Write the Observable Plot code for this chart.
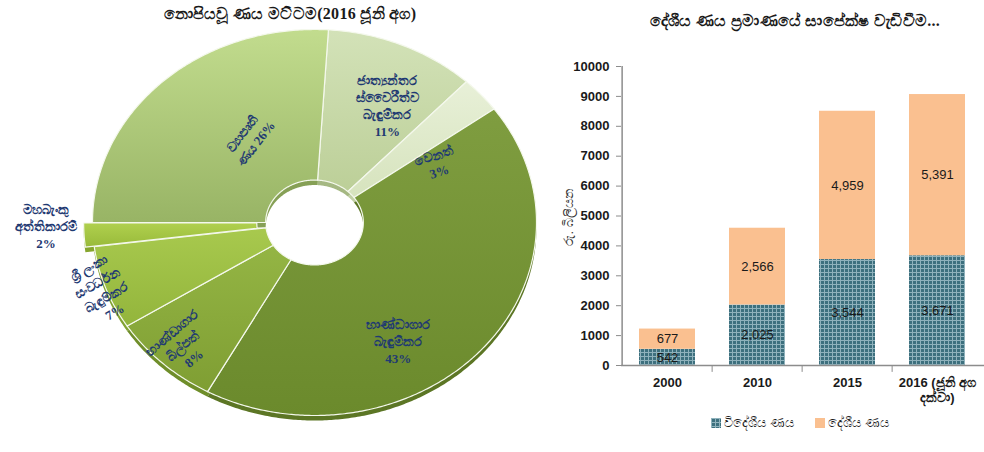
<!DOCTYPE html>
<html>
<head>
<meta charset="utf-8">
<script src="https://cdn.jsdelivr.net/npm/d3@7"></script>
<script src="https://cdn.jsdelivr.net/npm/@observablehq/plot@0.6"></script>
<style>
  html, body { margin: 0; padding: 0; background: #fff; }
  #wrap { position: relative; width: 984px; height: 452px; overflow: hidden; }
  .title { position: absolute; font-family: "Liberation Serif", serif; font-weight: bold; font-size: 16px; letter-spacing: 0.3px; color: #1a1a1a; white-space: nowrap; transform: translateX(-50%); }
  #pie { position: absolute; left: 0; top: 0; }
  #bars { position: absolute; left: 560px; top: 0; }
  .ylab { position: absolute; left: 569px; top: 217px; transform: translate(-50%, -50%) rotate(-90deg); font-family: "Liberation Sans", sans-serif; font-size: 13px; color: #333; white-space: nowrap; }
  .leg { position: absolute; top: 415px; font-family: "Liberation Sans", sans-serif; font-size: 13px; color: #1a1a1a; display: flex; align-items: center; white-space: nowrap; }
  .leg svg { margin-right: 3px; }
</style>
</head>
<body>
<svg width="0" height="0" style="position:absolute">
  <defs>
    <pattern id="tealGrid" width="4" height="4" patternUnits="userSpaceOnUse">
      <rect width="4" height="4" fill="#3d707e"/>
      <path d="M0 0.5H4M0.5 0V4" stroke="#8fb2bc" stroke-width="1"/>
    </pattern>
    <linearGradient id="g0" x1="0" y1="0" x2="0" y2="1"><stop offset="0" stop-color="#d3e2b8"/><stop offset="1" stop-color="#bccf98"/></linearGradient>
    <linearGradient id="g1" x1="0" y1="0" x2="0" y2="1"><stop offset="0" stop-color="#e8f0d8"/><stop offset="1" stop-color="#d6e3bd"/></linearGradient>
    <linearGradient id="g2" x1="0" y1="0" x2="0" y2="1"><stop offset="0" stop-color="#7f9d40"/><stop offset="1" stop-color="#6b8a2c"/></linearGradient>
    <linearGradient id="g3" x1="0" y1="0" x2="0" y2="1"><stop offset="0" stop-color="#94b544"/><stop offset="1" stop-color="#7f9e33"/></linearGradient>
    <linearGradient id="g4" x1="0" y1="0" x2="0" y2="1"><stop offset="0" stop-color="#a8c94e"/><stop offset="1" stop-color="#93b53c"/></linearGradient>
    <linearGradient id="g5" x1="0" y1="0" x2="0" y2="1"><stop offset="0" stop-color="#b0d04e"/><stop offset="1" stop-color="#98ba3a"/></linearGradient>
    <linearGradient id="g6" x1="0" y1="0" x2="0" y2="1"><stop offset="0" stop-color="#c2dc8e"/><stop offset="1" stop-color="#98b465"/></linearGradient>
  </defs>
</svg>
<div id="wrap">
  <div class="title" style="left:290px; top:5px;">නොපියවූ ණය මට්ටම(2016 ජූනි අග)</div>
  <div class="title" style="left:795px; top:12px;">දේශීය ණය ප්&zwj;රමාණයේ සාපේක්ෂ වැඩිවීම...</div>
  <div id="pie"></div>
  <div id="bars"></div>
  <div class="ylab" id="ylab"></div>
</div>
<script>
// ---------- DATA ----------
const debtCategories = [
  "ජාත්\u200Dයන්තර\nස්වෛරීත්ව\nබැඳුම්කර",
  "වෙනත්",
  "භාණ්ඩාගාර\nබැඳුම්කර",
  "භාණ්ඩාගාර\nබිල්පත්",
  "ශ්\u200Dරී ලංකා\nසංවර්ධන\nබැඳුම්කර",
  "මහබැංකු\nඅත්තිකාරම්",
  "ව්\u200Dයාපෘති\nණය"
];
const debtShares = [11, 3, 43, 8, 7, 2, 26];

const years = ["2000", "2010", "2015", "2016 (ජූනි අග\nදක්වා)"];
const seriesNames = ["විදේශීය ණය", "දේශීය ණය"];
const foreignDebt = [542, 2025, 3544, 3671];
const domesticDebt = [677, 2566, 4959, 5391];
const yTicks = [0, 1000, 2000, 3000, 4000, 5000, 6000, 7000, 8000, 9000, 10000];
const yAxisLabel = "රු. බිලියන";

// ---------- STYLE ----------
const sliceFills = ["url(#g0)", "url(#g1)", "url(#g2)", "url(#g3)", "url(#g4)", "url(#g5)", "url(#g6)"];
const sliceRims = ["#a5b883", "#c0cfa4", "#5c7625", "#6f8e2a", "#82a332", "#86a62e", "#86a056"];
const sliceExplode = [0, 0, 0, 0, 0, 0.04, 0];
// label placement: radius (fraction), angle nudge (deg), rotation (deg), join between name & pct
const labelStyle = [
  {r: 0.69, da: 5, rot: 0, join: "\n"},
  {r: 0.63, da: 12, rot: -18, join: "\n"},
  {r: 0.72, da: 17, rot: 0, join: "\n"},
  {r: 0.87, da: 0, rot: -40, join: "\n"},
  {r: 1.02, da: 0, rot: -30, join: "\n"},
  {r: 1.17, da: 3, rot: 0, join: "\n"},
  {r: 0.53, da: 9, rot: -52, join: " "}
];
const startDeg = 3.6, innerR = 0.22;
const cx = 314, cy = 222, rx = 222, ry = 193;

// ---------- PIE ----------
const rad = Math.PI / 180;
const arcs = d3.pie().sort(null).startAngle(startDeg * rad).endAngle(startDeg * rad + 2 * Math.PI)(debtShares);
const slicePts = [];
const labelData = [];
arcs.forEach((a, i) => {
  const mid = (a.startAngle + a.endAngle) / 2;
  const ox = Math.sin(mid) * sliceExplode[i], oy = Math.cos(mid) * sliceExplode[i];
  const n = Math.max(8, Math.ceil((a.endAngle - a.startAngle) / 0.01));
  const pts = [];
  for (let k = 0; k <= n; k++) { const t = a.startAngle + (a.endAngle - a.startAngle) * k / n; pts.push([Math.sin(t), Math.cos(t)]); }
  for (let k = n; k >= 0; k--) { const t = a.startAngle + (a.endAngle - a.startAngle) * k / n; pts.push([innerR * Math.sin(t), innerR * Math.cos(t)]); }
  pts.push(pts[0]);
  pts.forEach(([x, y]) => slicePts.push({slice: i, x: x + ox, y: y + oy, fill: sliceFills[i], rim: sliceRims[i]}));
  const s = labelStyle[i];
  const m = mid + s.da * rad;
  labelData.push({
    x: s.r * Math.sin(m) + ox,
    y: s.r * Math.cos(m) + oy,
    rot: s.rot,
    text: debtCategories[i] + s.join + debtShares[i] + "%"
  });
});

const piePlot = Plot.plot({
  width: 560, height: 452, margin: 0,
  x: {domain: [-1, 1], range: [cx - rx, cx + rx], axis: null},
  y: {domain: [-1, 1], range: [cy + ry, cy - ry], axis: null},
  color: {type: "identity"},
  marks: [
    Plot.line(slicePts, {x: "x", y: "y", z: "slice", fill: "rim", stroke: "none", dy: 5}),
    Plot.line(slicePts, {x: "x", y: "y", z: "slice", fill: "fill", stroke: "#f4f8ec", strokeWidth: 1.2, strokeLinejoin: "round"}),
    Plot.text(labelData, {x: "x", y: "y", text: "text", rotate: "rot", fontSize: 13, fontWeight: "bold",
      fill: "#1f3a72", fontFamily: "Liberation Serif, serif", lineHeight: 1.3})
  ]
});
document.getElementById("pie").append(piePlot);

// ---------- BARS ----------
const rows = [];
years.forEach((yr, i) => {
  rows.push({year: yr, type: seriesNames[0], value: foreignDebt[i], lo: 0, hi: foreignDebt[i]});
  rows.push({year: yr, type: seriesNames[1], value: domesticDebt[i], lo: foreignDebt[i], hi: foreignDebt[i] + domesticDebt[i]});
});
const bw = 424, mL = 61, mR = 0;
const step = (bw - mL - mR) / years.length;
const fmt = d3.format(",");

const barPlot = Plot.plot({
  width: bw, height: 452,
  marginLeft: mL, marginRight: mR, marginTop: 66, marginBottom: 87,
  style: {fontFamily: "Liberation Sans, sans-serif", fontSize: "13px", color: "#1a1a1a", background: "transparent"},
  x: {domain: years, paddingInner: 0.374, paddingOuter: 0.187, axis: null},
  y: {domain: [0, 10000], axis: null},
  color: {domain: seriesNames, range: ["url(#tealGrid)", "#fac090"]},
  marks: [
    Plot.barY(rows, {x: "year", y1: "lo", y2: "hi", fill: "type"}),
    Plot.text(rows, {x: "year", y: d => (d.lo + d.hi) / 2, text: d => fmt(d.value), fontSize: 13, fill: "#1a1a1a"}),
    Plot.ruleY([0], {stroke: "#8c8c8c", strokeWidth: 1.5}),
    Plot.ruleX([years[0]], {dx: -step / 2, y1: 0, y2: 10000, stroke: "#8c8c8c", strokeWidth: 1.5}),
    Plot.ruleX(years.slice(1), {dx: -step / 2, y1: 0, y2: -230, stroke: "#8c8c8c"}),
    Plot.axisY({ticks: yTicks, tickFormat: d => String(d), tickSize: 5, tickPadding: 7, stroke: "#8c8c8c",
      fill: "#1a1a1a", fontWeight: "bold", fontSize: 13, label: null}),
    Plot.axisX({tickSize: 0, tickPadding: 11, fill: "#1a1a1a", fontWeight: "bold", fontSize: 13, label: null, lineHeight: 1.15})
  ]
});
document.getElementById("bars").append(barPlot);

// y label & legend
document.getElementById("ylab").textContent = yAxisLabel;
const wrap = document.getElementById("wrap");
const legendX = [711, 815];
seriesNames.forEach((name, i) => {
  const d = document.createElement("div");
  d.className = "leg";
  d.style.left = legendX[i] + "px";
  d.innerHTML = `<svg width="10" height="10"><rect width="10" height="10" fill="${i === 0 ? "url(#tealGrid)" : "#fac090"}"/></svg>`;
  d.append(document.createTextNode(name));
  wrap.append(d);
});
</script>
</body>
</html>
